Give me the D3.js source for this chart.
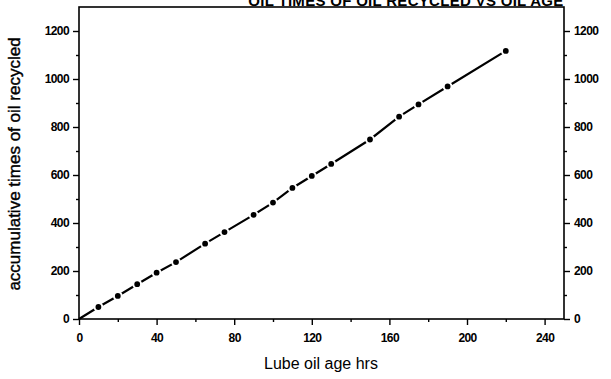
<!DOCTYPE html>
<html>
<head>
<meta charset="utf-8">
<script src="https://cdn.jsdelivr.net/npm/d3@7"></script>
<style>
  html, body { margin: 0; padding: 0; background: #fff; }
  svg { display: block; }
  text { font-family: "Liberation Sans", Arial, sans-serif; fill: #000; }
</style>
</head>
<body>
<svg id="chart" width="611" height="379"></svg>
<script>
// Lube oil age (hours) and accumulated recycle count
const ageHours = [0, 10, 20, 30, 40, 50, 65, 75, 90, 100, 110, 120, 130, 150, 165, 175, 190, 220];
const timesRecycled = [0, 50, 96, 145, 193, 237, 314, 362, 434, 485, 546, 596, 646, 748, 843, 894, 969, 1117];
const xTickValues = [0, 40, 80, 120, 160, 200, 240];
const xMinorTicks = [20, 60, 100, 140, 180, 220];
const yTickValues = [0, 200, 400, 600, 800, 1000, 1200];
const yMinorTicks = [100, 300, 500, 700, 900, 1100];

const titleText = "OIL TIMES OF OIL RECYCLED VS OIL AGE";
const xLabel = "Lube oil age  hrs";
const yLabel = "accumulative times of oil recycled";

const svg = d3.select("#chart");
const plotLeft = 79, plotRight = 564, plotTop = 7, plotBottom = 319;

const x = d3.scaleLinear().domain([0, 250]).range([plotLeft, plotRight]);
const y = d3.scaleLinear().domain([0, 1300]).range([plotBottom, plotTop]);

// frame
svg.append("rect")
  .attr("x", plotLeft).attr("y", plotTop)
  .attr("width", plotRight - plotLeft).attr("height", plotBottom - plotTop)
  .attr("fill", "none").attr("stroke", "#000").attr("stroke-width", 1.6);

function styleAxis(g) {
  g.select(".domain").remove();
  g.selectAll("line").attr("stroke", "#000").attr("stroke-width", 1.4);
  g.selectAll("text")
    .style("font-size", "12px")
    .style("font-weight", "bold")
    .style("letter-spacing", "-0.6px");
}

// bottom axis
svg.append("g").attr("transform", `translate(0,${plotBottom})`)
  .call(d3.axisBottom(x).tickValues(xTickValues).tickSize(6).tickPadding(8).tickFormat(d3.format("d")))
  .call(styleAxis);
svg.append("g").attr("transform", `translate(0,${plotBottom})`)
  .call(d3.axisBottom(x).tickValues(xMinorTicks).tickSize(3).tickFormat(""))
  .call(styleAxis);

// left axis
svg.append("g").attr("transform", `translate(${plotLeft},0)`)
  .call(d3.axisLeft(y).tickValues(yTickValues).tickSize(6).tickPadding(4).tickFormat(d3.format("d")))
  .call(styleAxis);
svg.append("g").attr("transform", `translate(${plotLeft},0)`)
  .call(d3.axisLeft(y).tickValues(yMinorTicks).tickSize(3).tickFormat(""))
  .call(styleAxis);

// right axis
svg.append("g").attr("transform", `translate(${plotRight},0)`)
  .call(d3.axisRight(y).tickValues(yTickValues).tickSize(6).tickPadding(4).tickFormat(d3.format("d")))
  .call(styleAxis);
svg.append("g").attr("transform", `translate(${plotRight},0)`)
  .call(d3.axisRight(y).tickValues(yMinorTicks).tickSize(3).tickFormat(""))
  .call(styleAxis);

// data line
const pts = ageHours.map((a, i) => [a, timesRecycled[i]]);
svg.append("path")
  .datum(pts)
  .attr("fill", "none")
  .attr("stroke", "#000")
  .attr("stroke-width", 2.2)
  .attr("d", d3.line().x(d => x(d[0])).y(d => y(d[1])));

// markers with a white halo so the line breaks around each point
svg.append("g").selectAll("circle")
  .data(pts.filter(d => d[0] > 0))
  .join("circle")
  .attr("cx", d => x(d[0]))
  .attr("cy", d => y(d[1]))
  .attr("r", 3.9)
  .attr("fill", "#000")
  .attr("stroke", "#fff")
  .attr("stroke-width", 2);

// title (runs off the top edge)
svg.append("text")
  .attr("x", 406).attr("y", 6)
  .attr("text-anchor", "middle")
  .style("font-size", "15px")
  .style("font-weight", "bold")
  .style("letter-spacing", "0.3px")
  .text(titleText);

// axis titles
svg.append("text")
  .attr("x", 321).attr("y", 369)
  .attr("text-anchor", "middle")
  .style("font-size", "16px")
  .text(xLabel);

svg.append("text")
  .attr("transform", "translate(20,164) rotate(-90)")
  .attr("text-anchor", "middle")
  .style("font-size", "17px")
  .attr("stroke", "#000")
  .attr("stroke-width", 0.4)
  .text(yLabel);
</script>
</body>
</html>
